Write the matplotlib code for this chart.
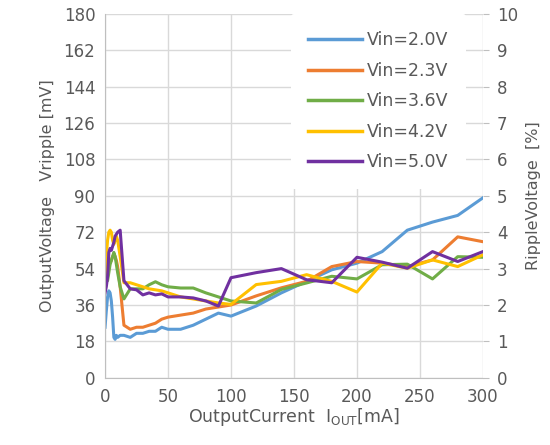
import matplotlib.pyplot as plt

# output current [mA]
current = [0, 1, 2, 3, 4, 5, 6, 7, 8, 9, 10, 12, 15, 20, 25, 30, 35, 40, 45, 50,
           60, 70, 80, 90, 100, 120, 140, 160, 180, 200, 220, 240, 260, 280, 300]

# ripple voltage [mV] per input voltage
vin_20 = [25, 33, 40, 43, 42, 38, 30, 20, 19, 21, 20, 21, 21, 20, 22, 22, 23, 23, 25, 24,
          24, 26, 29, 32, 30.5, 35.5, 42, 47.7, 53.4, 56.7, 62.4, 73, 77, 80.3, 89]
vin_23 = [50, 53, 55, 56, 57, 58, 60, 61, 60, 58, 55, 45, 26, 24, 25, 25, 26, 27, 29, 30,
          31, 32, 34, 35, 36, 40.5, 44.5, 47.7, 55, 57.5, 56.7, 55, 58.3, 69.7, 67.3]
vin_36 = [52, 49, 48, 52, 56, 58, 60, 62, 60, 56, 52, 45, 39, 44, 44, 44, 46, 47.5, 46, 45,
          44.4, 44.4, 42, 40, 38, 37, 43.7, 46.9, 50.2, 48.9, 55.9, 56.2, 48.9, 59.9, 59.6]
vin_42 = [50, 60, 68, 72, 73, 72, 68, 66, 68, 70, 68, 60, 47, 47, 46, 45, 44, 43.5, 43, 42,
          40, 39, 38, 37, 36.3, 46.1, 47.7, 51, 47.7, 42.4, 56.7, 54.2, 58.3, 55, 60.8]
vin_50 = [42, 45, 50, 62, 64, 63, 65, 67, 70, 71, 72, 73, 48, 44, 43.5, 41, 42, 41, 41.5, 40,
          40, 39.5, 38, 35.5, 49.5, 52, 54, 48.5, 47, 59.6, 57.2, 54.2, 62.4, 57.5, 62.4]

series = [
    ("Vin=2.0V", vin_20, "#5B9BD5"),
    ("Vin=2.3V", vin_23, "#ED7D31"),
    ("Vin=3.6V", vin_36, "#70AD47"),
    ("Vin=4.2V", vin_42, "#FFC000"),
    ("Vin=5.0V", vin_50, "#7030A0"),
]

y_ticks = [0, 18, 36, 54, 72, 90, 108, 126, 144, 162, 180]
x_ticks = [0, 50, 100, 150, 200, 250, 300]
pct_ticks = list(range(0, 11))

TXT = "#595959"
FS = 12

fig = plt.figure(figsize=(5.5, 4.45), dpi=100)
ax = fig.add_axes([0.191, 0.151, 0.687, 0.818])

for label, vals, color in series:
    ax.plot(current, vals, color=color, lw=2.2, label=label, solid_joinstyle="round")

ax.set_xlim(0, 300)
ax.set_ylim(0, 180)
ax.set_xticks(x_ticks)
ax.set_yticks(y_ticks)
ax.grid(True, color="#D9D9D9", lw=1)
ax.set_axisbelow(True)
ax.tick_params(axis="both", length=0, labelsize=FS, labelcolor=TXT, pad=7)
for s in ["top", "right"]:
    ax.spines[s].set_visible(False)
for s in ["left", "bottom"]:
    ax.spines[s].set_color("#BFBFBF")

ax2 = ax.twinx()
ax2.set_ylim(0, 10)
ax2.set_yticks(pct_ticks)
ax2.tick_params(axis="y", length=4, color="#BFBFBF", labelsize=FS, labelcolor=TXT, pad=6)
for s in ["top", "left", "bottom", "right"]:
    ax2.spines[s].set_visible(False)

ax.set_xlabel("OutputCurrent  I$_{\\mathregular{OUT}}$[mA]", fontsize=FS + 0.5, color=TXT, labelpad=0)
ax.set_ylabel("OutputVoltage   Vripple [mV]", fontsize=11.5, color=TXT, labelpad=6)
ax2.set_ylabel("RippleVoltage  [%]", fontsize=11.5, color=TXT, labelpad=6)

leg = ax.legend(loc="upper left", fontsize=12.5, frameon=True, facecolor="white",
                edgecolor="none", framealpha=1, handlelength=3.1, labelspacing=0.72,
                handletextpad=0.3, borderpad=1.0, borderaxespad=0,
                bbox_to_anchor=(0.492, 1.0))
for t in leg.get_texts():
    t.set_color(TXT)
for h in leg.get_lines():
    h.set_linewidth(2.5)

fig.savefig("out.png", dpi=100)
